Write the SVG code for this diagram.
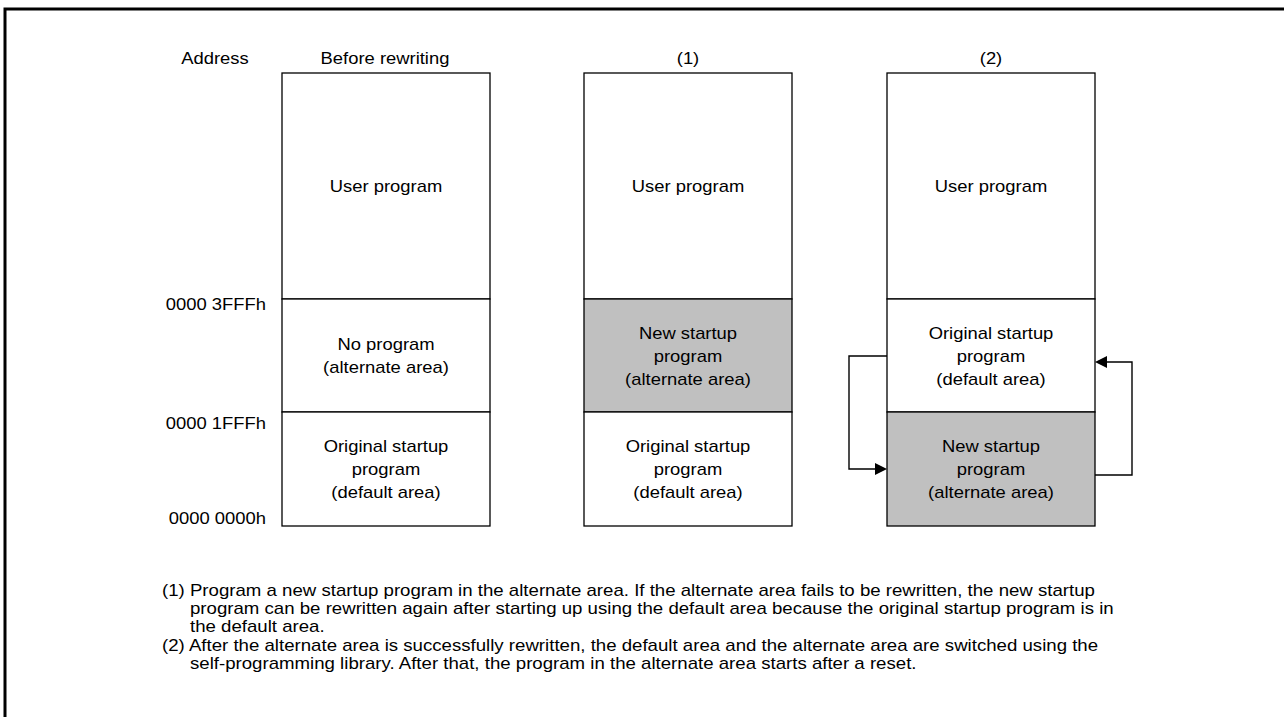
<svg xmlns="http://www.w3.org/2000/svg" width="1284" height="717" viewBox="0 0 1284 717">
<defs>
<style>
text{font-family:"Liberation Sans",Arial,sans-serif;font-size:16px;fill:#000}
.c{text-anchor:middle}
.e{text-anchor:end}
.seg{stroke:#000;stroke-width:1.3;fill:#fff}
.gray{fill:#c0c0c0}
.conn{fill:none;stroke:#000;stroke-width:1.4}
</style>
<marker id="ah" markerUnits="userSpaceOnUse" markerWidth="12" markerHeight="12" refX="0" refY="6" orient="auto">
<path d="M0,0 L12,6 L0,12 z" fill="#000"/>
</marker>
</defs>
<rect x="0" y="0" width="1284" height="717" fill="#fff"/>
<path d="M5,717 V9 H1284" fill="none" stroke="#000" stroke-width="3"/>

<g id="headers">
<text class="c" transform="translate(215 64) scale(1.15 1)">Address</text>
<text class="c" transform="translate(385 64) scale(1.15 1)">Before rewriting</text>
<text class="c" transform="translate(688 64) scale(1.15 1)">(1)</text>
<text class="c" transform="translate(991 64) scale(1.15 1)">(2)</text>
</g>

<g id="addresses">
<text class="e" transform="translate(266 310) scale(1.15 1)">0000 3FFFh</text>
<text class="e" transform="translate(266 429) scale(1.15 1)">0000 1FFFh</text>
<text class="e" transform="translate(266 524) scale(1.15 1)">0000 0000h</text>
</g>

<g id="before-user">
<rect class="seg" x="282" y="73" width="208" height="226"/>
<text class="c" transform="translate(386 192) scale(1.15 1)">User program</text>
</g>
<g id="before-alternate">
<rect class="seg" x="282" y="299" width="208" height="113"/>
<text class="c" transform="translate(386 350) scale(1.15 1)">No program</text>
<text class="c" transform="translate(386 373) scale(1.15 1)">(alternate area)</text>
</g>
<g id="before-default">
<rect class="seg" x="282" y="412" width="208" height="114"/>
<text class="c" transform="translate(386 452) scale(1.15 1)">Original startup</text>
<text class="c" transform="translate(386 475) scale(1.15 1)">program</text>
<text class="c" transform="translate(386 498) scale(1.15 1)">(default area)</text>
</g>

<g id="step1-user">
<rect class="seg" x="584" y="73" width="208" height="226"/>
<text class="c" transform="translate(688 192) scale(1.15 1)">User program</text>
</g>
<g id="step1-alternate">
<rect class="seg gray" x="584" y="299" width="208" height="113"/>
<text class="c" transform="translate(688 339) scale(1.15 1)">New startup</text>
<text class="c" transform="translate(688 362) scale(1.15 1)">program</text>
<text class="c" transform="translate(688 385) scale(1.15 1)">(alternate area)</text>
</g>
<g id="step1-default">
<rect class="seg" x="584" y="412" width="208" height="114"/>
<text class="c" transform="translate(688 452) scale(1.15 1)">Original startup</text>
<text class="c" transform="translate(688 475) scale(1.15 1)">program</text>
<text class="c" transform="translate(688 498) scale(1.15 1)">(default area)</text>
</g>

<g id="step2-user">
<rect class="seg" x="887" y="73" width="208" height="226"/>
<text class="c" transform="translate(991 192) scale(1.15 1)">User program</text>
</g>
<g id="step2-default">
<rect class="seg" x="887" y="299" width="208" height="113"/>
<text class="c" transform="translate(991 339) scale(1.15 1)">Original startup</text>
<text class="c" transform="translate(991 362) scale(1.15 1)">program</text>
<text class="c" transform="translate(991 385) scale(1.15 1)">(default area)</text>
</g>
<g id="step2-alternate">
<rect class="seg gray" x="887" y="412" width="208" height="114"/>
<text class="c" transform="translate(991 452) scale(1.15 1)">New startup</text>
<text class="c" transform="translate(991 475) scale(1.15 1)">program</text>
<text class="c" transform="translate(991 498) scale(1.15 1)">(alternate area)</text>
</g>

<g id="connectors">
<path class="conn" d="M887,356 H849 V469 H875" marker-end="url(#ah)"/>
<path class="conn" d="M1095,475 H1132 V362 H1107" marker-end="url(#ah)"/>
</g>

<g id="notes">
<text transform="translate(162 595.5) scale(1.165 1)">(1) Program a new startup program in the alternate area. If the alternate area fails to be rewritten, the new startup</text>
<text transform="translate(190 613.5) scale(1.165 1)">program can be rewritten again after starting up using the default area because the original startup program is in</text>
<text transform="translate(190 631.5) scale(1.165 1)">the default area.</text>
<text transform="translate(162 651) scale(1.165 1)">(2) After the alternate area is successfully rewritten, the default area and the alternate area are switched using the</text>
<text transform="translate(190 669) scale(1.165 1)">self-programming library. After that, the program in the alternate area starts after a reset.</text>
</g>
</svg>
